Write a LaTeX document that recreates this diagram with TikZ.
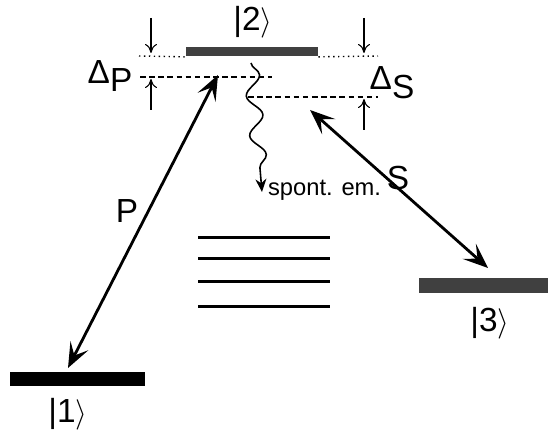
\documentclass[tikz,border=0pt]{standalone}
\usepackage{fontspec}
\setmainfont{Liberation Sans}
\usetikzlibrary{arrows.meta,decorations.pathmorphing}

\tikzset{
    level/.style={fill=#1, inner sep=0pt, draw=none},
    lbl/.style={font=\fontsize{19}{21}\selectfont, inner sep=1pt},
    pump/.style={line width=1.6pt,
        {Stealth[length=5mm,width=4mm,inset=2.2mm]}-{Stealth[length=5mm,width=4mm,inset=2.2mm]}},
    detune/.style={line width=0.6pt, -{To[length=1.8mm,width=2.4mm]}},
    virt/.style={line width=1.1pt, dash pattern=on 3.2pt off 2pt}
}

\begin{document}
\begin{tikzpicture}

\useasboundingbox (0,0) rectangle (10.96,8.64);

%% Hladiny |1>, |2>, |3>
\node[level=black, minimum width=2.7cm, minimum height=0.28cm] (lvOne) at (1.55,1.06) {};
\node[level=black!75, minimum width=2.64cm, minimum height=0.18cm] (lvTwo) at (5.04,7.6) {};
\node[level=black!75, minimum width=2.58cm, minimum height=0.3cm, anchor=west] (lvThree) at (8.38,2.93) {};

\node[lbl] (ketOne) at (1.36,0.36) {|1$\rangle$};
\node[lbl] (ketTwo) at (5.06,8.2) {|2$\rangle$};
\node[lbl] (ketThree) at (9.8,2.18) {|3$\rangle$};

%% Bodkovaná čiara rezonancie
\draw[line width=0.8pt, dotted] (2.78,7.52) -- (lvTwo.south west);
\draw[line width=0.8pt, dotted] (lvTwo.south east) -- (7.56,7.52);

%% Virtuálne hladiny
\coordinate (dpL) at (2.8,7.1);
\coordinate (dpR) at (5.44,7.1);
\coordinate (dsL) at (4.96,6.7);
\coordinate (dsR) at (7.56,6.7);
\draw[virt] (dpL) -- (dpR);
\draw[virt] (dsL) -- (dsR);

%% Rozladenia
\draw[detune] (3.02,8.28) -- (3.02,7.58);
\draw[detune] (3.02,6.44) -- (3.02,7.06);
\draw[detune] (7.28,8.28) -- (7.28,7.58);
\draw[detune] (7.28,6.04) -- (7.28,6.66);

\node[lbl] (delP) at (2.2,7.12) {Δ\raisebox{-0.5ex}{P}};
\node[lbl] (delS) at (7.84,6.98) {Δ\raisebox{-0.5ex}{S}};

%% Pumpa a Stokes
\coordinate (pTop) at (4.36,7.14);
\coordinate (pBot) at (1.36,1.28);
\coordinate (sTop) at (6.2,6.44);
\coordinate (sBot) at (9.76,3.28);
\draw[pump] (pBot) -- (pTop);
\draw[pump] (sTop) -- (sBot);

\node[lbl] (labP) at (2.54,4.42) {P};
\node[lbl] (labS) at (7.96,5.08) {S};

%% Spontánna emisia
\coordinate (emTop) at (5.02,7.38);
\coordinate (emBot) at (5.24,4.8);
\draw[line width=0.9pt, -{Stealth[length=2.6mm,width=2.2mm]},
      decorate, decoration={snake, segment length=0.8cm, amplitude=0.15cm, post length=0.45cm}]
    (emTop) -- (emBot);
\node[font=\fontsize{13.5}{15}\selectfont, anchor=west, inner sep=1pt] (spont) at (5.32,4.84) {spont. em.};

%% Ostatné hladiny
\foreach \yy in {3.88, 3.46, 3.0, 2.5} {
    \draw[line width=1.7pt] (3.96,\yy) -- (6.6,\yy);
}

\end{tikzpicture}
\end{document}
